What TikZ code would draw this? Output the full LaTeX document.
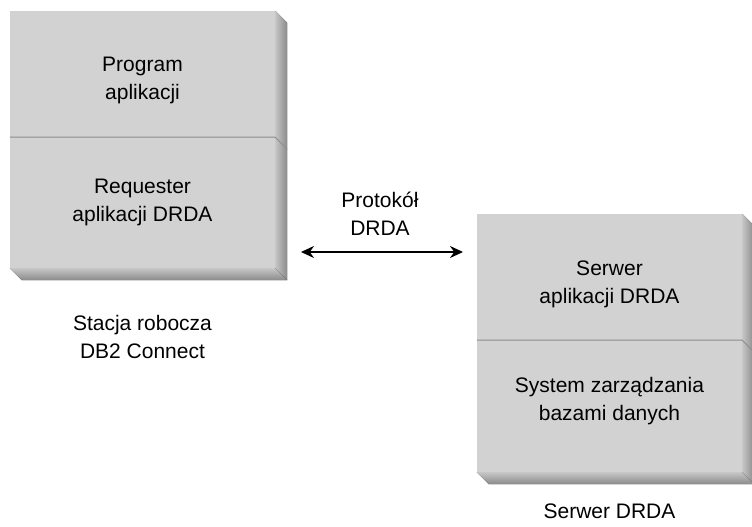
\documentclass[tikz,border=0pt]{standalone}
\usepackage{fontspec}
\setmainfont{Liberation Sans}
\usetikzlibrary{arrows.meta}
\definecolor{facegray}{HTML}{D2D2D3}
\definecolor{edgelight}{HTML}{C6C6C7}
\definecolor{edgedark}{HTML}{8A8A8B}
\definecolor{divgray}{HTML}{8C8C8C}
\tikzset{
  cell/.style={fill=facegray, minimum width=265pt, inner sep=0pt},
  caption/.style={align=center, inner sep=0pt, font=\fontsize{21}{28}\selectfont},
  divider/.style={draw=divgray, line width=1pt},
  link/.style={{Stealth[length=13pt,width=12pt]}-{Stealth[length=13pt,width=12pt]}, line width=1.5pt}
}
\begin{document}
\begin{tikzpicture}[x=1pt,y=-1pt]
    \useasboundingbox (0,0) rectangle (752,527);
    % stacja robocza
    \node[cell, minimum height=126pt] (appl) at (142.5,74) {};
    \node[cell, minimum height=131pt] (req) at (142.5,202.5) {};
    \fill[left color=edgelight, right color=edgedark] (appl.north east) -- ++(12,12) -- ([shift={(12,12)}]req.south east) -- (req.south east) -- cycle;
    \fill[top color=edgelight, bottom color=edgedark] (req.south west) -- ++(12,12) -- ([shift={(12,12)}]req.south east) -- (req.south east) -- cycle;
    \draw[divider] (appl.south west) -- (appl.south east) -- ++(12,12);
    \node[caption] (applText) at ([shift={(0,6)}]appl.center) {Program\\aplikacji};
    \node[caption] (reqText) at ([shift={(0,0)}]req.center) {Requester\\aplikacji DRDA};
    \node[caption] (ws) at (142.5,337) {Stacja robocza\\DB2 Connect};
    % serwer
    \node[cell, minimum height=126pt] (srvapp) at (609.5,277) {};
    \node[cell, minimum height=132pt] (dbms) at (609.5,406) {};
    \fill[left color=edgelight, right color=edgedark] (srvapp.north east) -- ++(12,12) -- ([shift={(12,12)}]dbms.south east) -- (dbms.south east) -- cycle;
    \fill[top color=edgelight, bottom color=edgedark] (dbms.south west) -- ++(12,12) -- ([shift={(12,12)}]dbms.south east) -- (dbms.south east) -- cycle;
    \draw[divider] (srvapp.south west) -- (srvapp.south east) -- ++(12,12);
    \node[caption] (srvappText) at ([shift={(0,7)}]srvapp.center) {Serwer\\aplikacji DRDA};
    \node[caption] (dbmsText) at ([shift={(0,-5)}]dbms.center) {System zarządzania\\bazami danych};
    \node[caption] (srv) at (609.5,511) {Serwer DRDA};
    % protokol
    \node[caption] (proto) at (380,214) {Protokół\\DRDA};
    \coordinate (protoL) at (301,252);
    \coordinate (protoR) at (463,252);
    \draw[link] (protoL) -- (protoR);
\end{tikzpicture}
\end{document}
